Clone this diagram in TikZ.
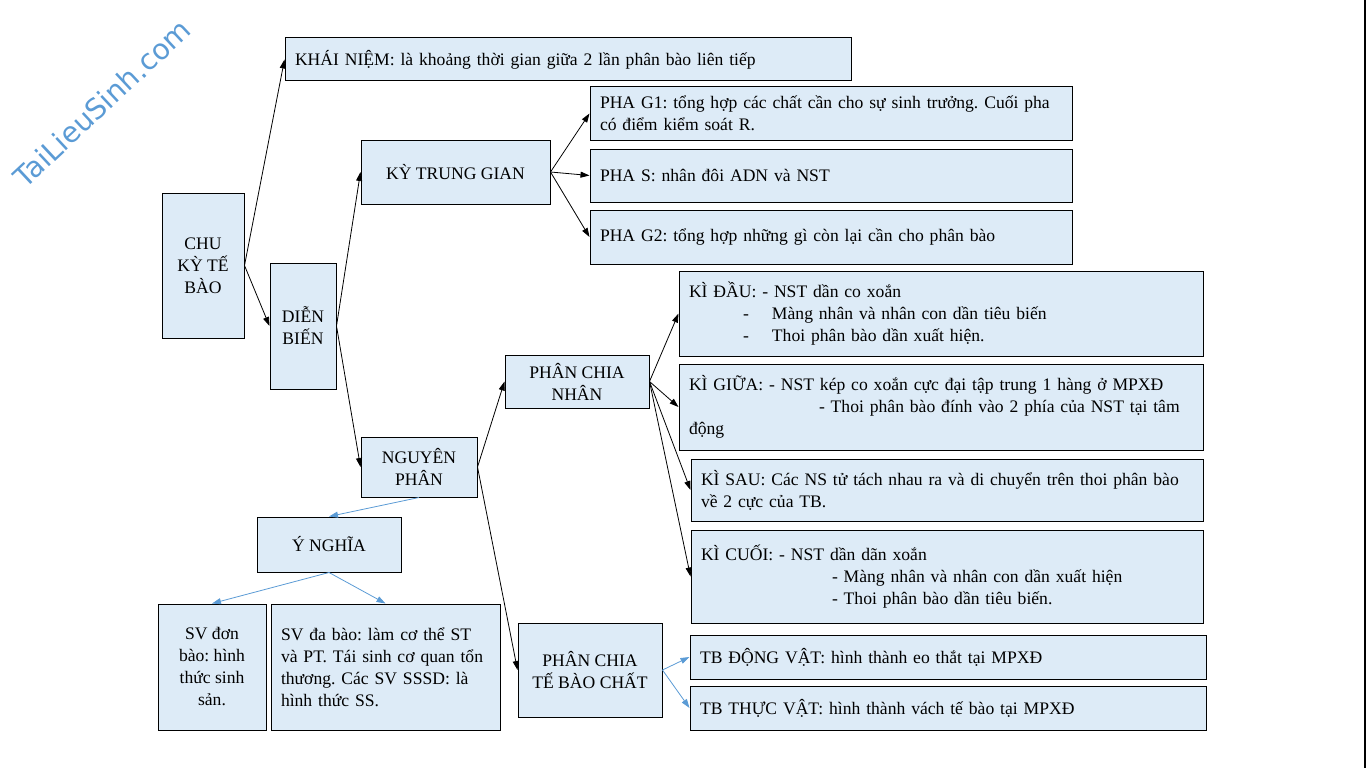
\documentclass[tikz,border=0pt]{standalone}
\usepackage{fontspec}
\setmainfont{Liberation Serif}
\newfontfamily\wmfont{DejaVu Sans}
\usetikzlibrary{arrows.meta}
\definecolor{boxfill}{RGB}{221,235,247}
\definecolor{linkblue}{RGB}{91,155,213}
\frenchspacing
\begin{document}
\begin{tikzpicture}[x=1pt, y=-1pt,
  box/.style={draw=black, line width=1pt, fill=boxfill, inner xsep=10pt, inner ysep=2pt, align=center, font=\fontsize{17.6}{22}\selectfont},
  tbox/.style={box, align=left},
  arr/.style={-{Triangle[length=9pt,width=6pt]}, line width=0.8pt},
  barr/.style={arr, draw=linkblue, -{Triangle[length=9pt,width=6pt,fill=linkblue]}}]
\useasboundingbox (0,0) rectangle (1366,768);
\node [rotate=43, text=linkblue, font=\wmfont\fontsize{28.5}{28}\selectfont] (wm) at (102,103) {TaiLieuSinh.com};
% cot trai
\node [box, minimum width=82pt, minimum height=145pt] (chu) at (203,265.5) {CHU\\KỲ TẾ\\BÀO};
\node [box, minimum width=66pt, minimum height=126pt, inner xsep=4pt] (db) at (303,326) {DIỄN\\BIẾN};
\node [tbox, text width=546pt, minimum height=43pt] (kn) at (568,59.5) {KHÁI NIỆM: là khoảng thời gian giữa 2 lần phân bào liên tiếp};
% ky trung gian
\node [box, minimum width=189pt, minimum height=64pt] (ktg) at (455.5,172) {KỲ TRUNG GIAN};
\node [tbox, text width=462pt, minimum height=53pt] (g1) at (831,113.5) {PHA G1: tổng hợp các chất cần cho sự sinh trưởng. Cuối pha\\có điểm kiểm soát R.};
\node [tbox, text width=462pt, minimum height=53pt] (s) at (831,175.5) {PHA S: nhân đôi ADN và NST};
\node [tbox, text width=462pt, minimum height=54pt] (g2) at (831,237) {PHA G2: tổng hợp những gì còn lại cần cho phân bào};
% nguyen phan
\node [box, minimum width=116pt, minimum height=60pt] (np) at (419,467) {NGUYÊN\\PHÂN};
\node [box, minimum width=144pt, minimum height=53pt] (pcn) at (577,381.5) {PHÂN CHIA\\NHÂN};
\node [tbox, text width=504pt, minimum height=85pt] (kd) at (941,313.5) {KÌ ĐẦU: - NST dần co xoắn\\\makebox[83pt][l]{\hspace*{54pt}-}Màng nhân và nhân con dần tiêu biến\\\makebox[83pt][l]{\hspace*{54pt}-}Thoi phân bào dần xuất hiện.};
\node [tbox, text width=504pt, minimum height=86pt] (kg) at (941,407) {KÌ GIỮA: - NST kép co xoắn cực đại tập trung 1 hàng ở MPXĐ\\\hspace*{130pt}- Thoi phân bào đính vào 2 phía của NST tại tâm\\động};
\node [tbox, text width=492pt, minimum height=62pt] (ks) at (947,490) {KÌ SAU: Các NS tử tách nhau ra và di chuyển trên thoi phân bào\\về 2 cực của TB.};
\node [tbox, text width=492pt, minimum height=93pt] (kc) at (947,576.5) {KÌ CUỐI: - NST dần dãn xoắn\\\hspace*{131pt}- Màng nhân và nhân con dần xuất hiện\\\hspace*{131pt}- Thoi phân bào dần tiêu biến.};
\node [box, minimum width=144pt, minimum height=94pt] (pct) at (590,670) {PHÂN CHIA\\TẾ BÀO CHẤT};
\node [tbox, text width=496pt, minimum height=44pt] (dv) at (948,657) {TB ĐỘNG VẬT: hình thành eo thắt tại MPXĐ};
\node [tbox, text width=496pt, minimum height=44pt] (tv) at (948,708) {TB THỰC VẬT: hình thành vách tế bào tại MPXĐ};
% y nghia
\node [box, minimum width=144pt, minimum height=55pt] (yn) at (329,544.5) {Ý NGHĨA};
\node [box, minimum width=108pt, minimum height=126pt, inner xsep=4pt] (sv1) at (212,667) {SV đơn\\bào: hình\\thức sinh\\sản.};
\node [tbox, text width=209pt, minimum height=126pt] (sv2) at (385.5,667) {SV đa bào: làm cơ thể ST\\và PT. Tái sinh cơ quan tổn\\thương. Các SV SSSD: là\\hình thức SS.};
\draw [arr] (chu.east) -- (kn.west);
\draw [arr] (chu.east) -- (db.west);
\draw [arr] (db.east) -- (ktg.west);
\draw [arr] (db.east) -- (np.west);
\draw [arr] (ktg.east) -- (g1.west);
\draw [arr] (ktg.east) -- (s.west);
\draw [arr] (ktg.east) -- (g2.west);
\draw [arr] (np.east) -- (pcn.west);
\draw [arr] (np.east) -- (pct.west);
\draw [arr] (pcn.east) -- (kd.west);
\draw [arr] (pcn.east) -- (kg.west);
\draw [arr] (pcn.east) -- (ks.west);
\draw [arr] (pcn.east) -- (kc.west);
\draw [barr] (pct.east) -- (dv.west);
\draw [barr] (pct.east) -- (tv.west);
\draw [barr] (np.south) -- (yn.north);
\draw [barr] (yn.south) -- (sv1.north);
\draw [barr] (yn.south) -- (sv2.north);
\draw [line width=1.5pt] (1365,0) -- (1365,768);
\end{tikzpicture}
\end{document}
